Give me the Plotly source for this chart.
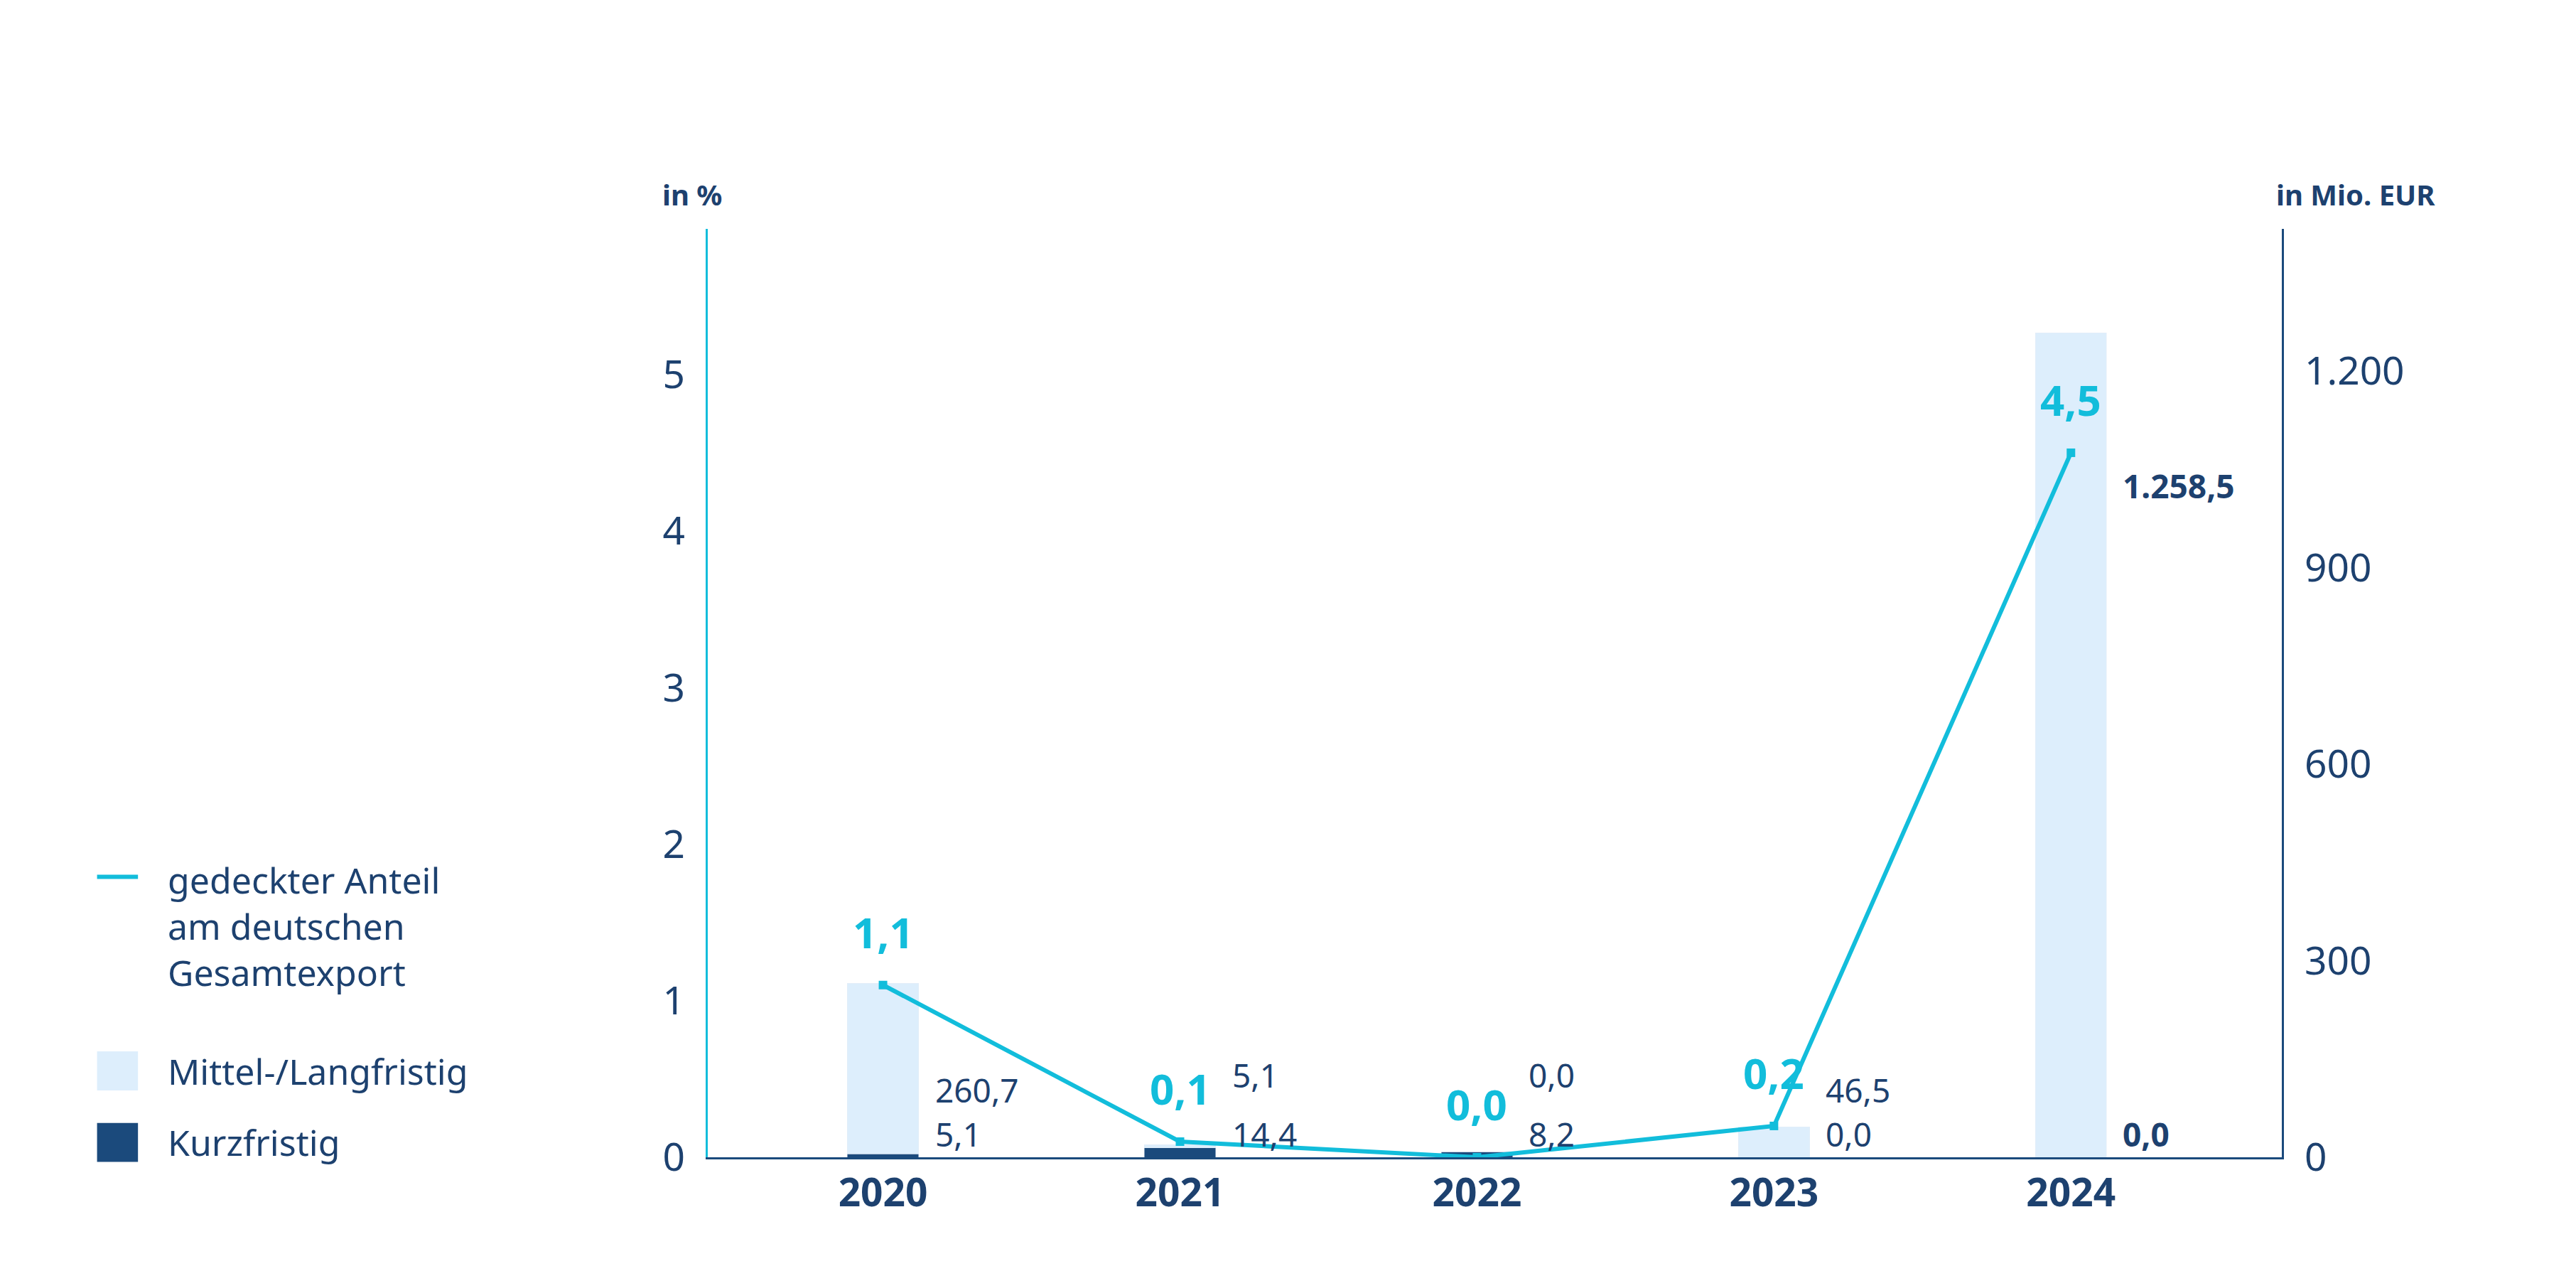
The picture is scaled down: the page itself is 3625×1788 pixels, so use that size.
import plotly.graph_objects as go

years = ["2020", "2021", "2022", "2023", "2024"]
share = [1.1, 0.1, 0.0, 0.2, 4.5]
share_lbl = ["1,1", "0,1", "0,0", "0,2", "4,5"]
mittel = [260.7, 5.1, 0.0, 46.5, 1258.5]
mittel_lbl = ["260,7", "5,1", "0,0", "46,5", "1.258,5"]
kurz = [5.1, 14.4, 8.2, 0.0, 0.0]
kurz_lbl = ["5,1", "14,4", "8,2", "0,0", "0,0"]

CYAN = "#12BDDB"
NAVY = "#1B4A7C"
LIGHT = "#DDEEFC"
TXT = "#1D416F"
FONT = "Noto Sans"
x = list(range(len(years)))

fig = go.Figure()
fig.add_trace(go.Bar(x=x, y=kurz, marker_color=NAVY, width=0.24, yaxis="y", showlegend=False))
fig.add_trace(go.Bar(x=x, y=mittel, marker_color=LIGHT, width=0.24, yaxis="y", showlegend=False))
fig.add_trace(go.Scatter(x=x, y=share, mode="lines+markers", yaxis="y2", showlegend=False,
                         line=dict(color=CYAN, width=6), marker=dict(symbol="square", size=12, color=CYAN)))

ann = []
for i in x:
    ann.append(dict(x=i, y=share[i], yref="y2", text=f"<b>{share_lbl[i]}</b>", showarrow=False,
                    yshift=75, font=dict(size=60, color=CYAN, family=FONT)))
    big = i == 4
    ann.append(dict(x=i + 0.17, y=mittel[i] if big else 0, yref="y", xanchor="left",
                    text=f"<b>{mittel_lbl[i]}</b>" if big else mittel_lbl[i], showarrow=False,
                    yshift=-215 if big else 116 if i in (1, 2) else 95,
                    font=dict(size=46, color=TXT, family=FONT)))
    ann.append(dict(x=i + 0.17, y=0, yref="y", xanchor="left",
                    text=f"<b>{kurz_lbl[i]}</b>" if big else kurz_lbl[i], showarrow=False,
                    yshift=33, font=dict(size=46, color=TXT, family=FONT)))
ann.append(dict(xref="paper", yref="paper", x=-0.01, y=1.06, text="<b>in %</b>", showarrow=False,
                font=dict(size=40, color=TXT, family=FONT), xanchor="center"))
ann.append(dict(xref="paper", yref="paper", x=1.0, y=1.06, text="<b>in Mio. EUR</b>", showarrow=False,
                font=dict(size=40, color=TXT, family=FONT), xanchor="left", xshift=-10))
# legend
lf = dict(size=50, color=TXT, family=FONT)
ann.append(dict(xref="paper", yref="paper", x=-0.344, y=0.249, xanchor="left", yanchor="middle", align="left",
                text="gedeckter Anteil<br>am deutschen<br>Gesamtexport", showarrow=False, font=lf))
ann.append(dict(xref="paper", yref="paper", x=-0.344, y=0.093, xanchor="left", yanchor="middle",
                text="Mittel-/Langfristig", showarrow=False, font=lf))
ann.append(dict(xref="paper", yref="paper", x=-0.344, y=0.016, xanchor="left", yanchor="middle",
                text="Kurzfristig", showarrow=False, font=lf))
shapes = [
    dict(type="line", xref="paper", yref="paper", x0=-0.388, x1=-0.362, y0=0.302, y1=0.302,
         line=dict(color=CYAN, width=6)),
    dict(type="rect", xref="paper", yref="paper", x0=-0.388, x1=-0.362, y0=0.072, y1=0.114,
         fillcolor=LIGHT, line=dict(width=0)),
    dict(type="rect", xref="paper", yref="paper", x0=-0.388, x1=-0.362, y0=-0.005, y1=0.037,
         fillcolor=NAVY, line=dict(width=0)),
]

fig.update_layout(
    width=3625, height=1788, barmode="stack", plot_bgcolor="white", paper_bgcolor="white",
    margin=dict(l=988, r=422, t=314, b=168),
    font=dict(family=FONT, color=TXT), showlegend=False,
    xaxis=dict(range=[-0.59, 4.71], tickvals=x, ticktext=[f"<b>{y}</b>" for y in years],
               tickfont=dict(size=55, color=TXT), showline=True, linecolor=NAVY, linewidth=3,
               ticks="", showgrid=False, zeroline=False),
    yaxis=dict(range=[0, 1417], side="right", tickvals=[0, 300, 600, 900, 1200],
               ticktext=["0", "300", "600", "900", "1.200"], tickfont=dict(size=55, color=TXT),
               showline=True, linecolor=NAVY, linewidth=3, showgrid=False, zeroline=False,
               ticks="outside", ticklen=18, tickcolor="white"),
    yaxis2=dict(range=[0, 5.93], overlaying="y", side="left", tickvals=[0, 1, 2, 3, 4, 5],
                tickfont=dict(size=55, color=TXT), showline=True, linecolor=CYAN, linewidth=3,
                showgrid=False, zeroline=False, ticks="outside", ticklen=18, tickcolor="white"),
    annotations=ann, shapes=shapes,
)
fig.write_html("out.html")
